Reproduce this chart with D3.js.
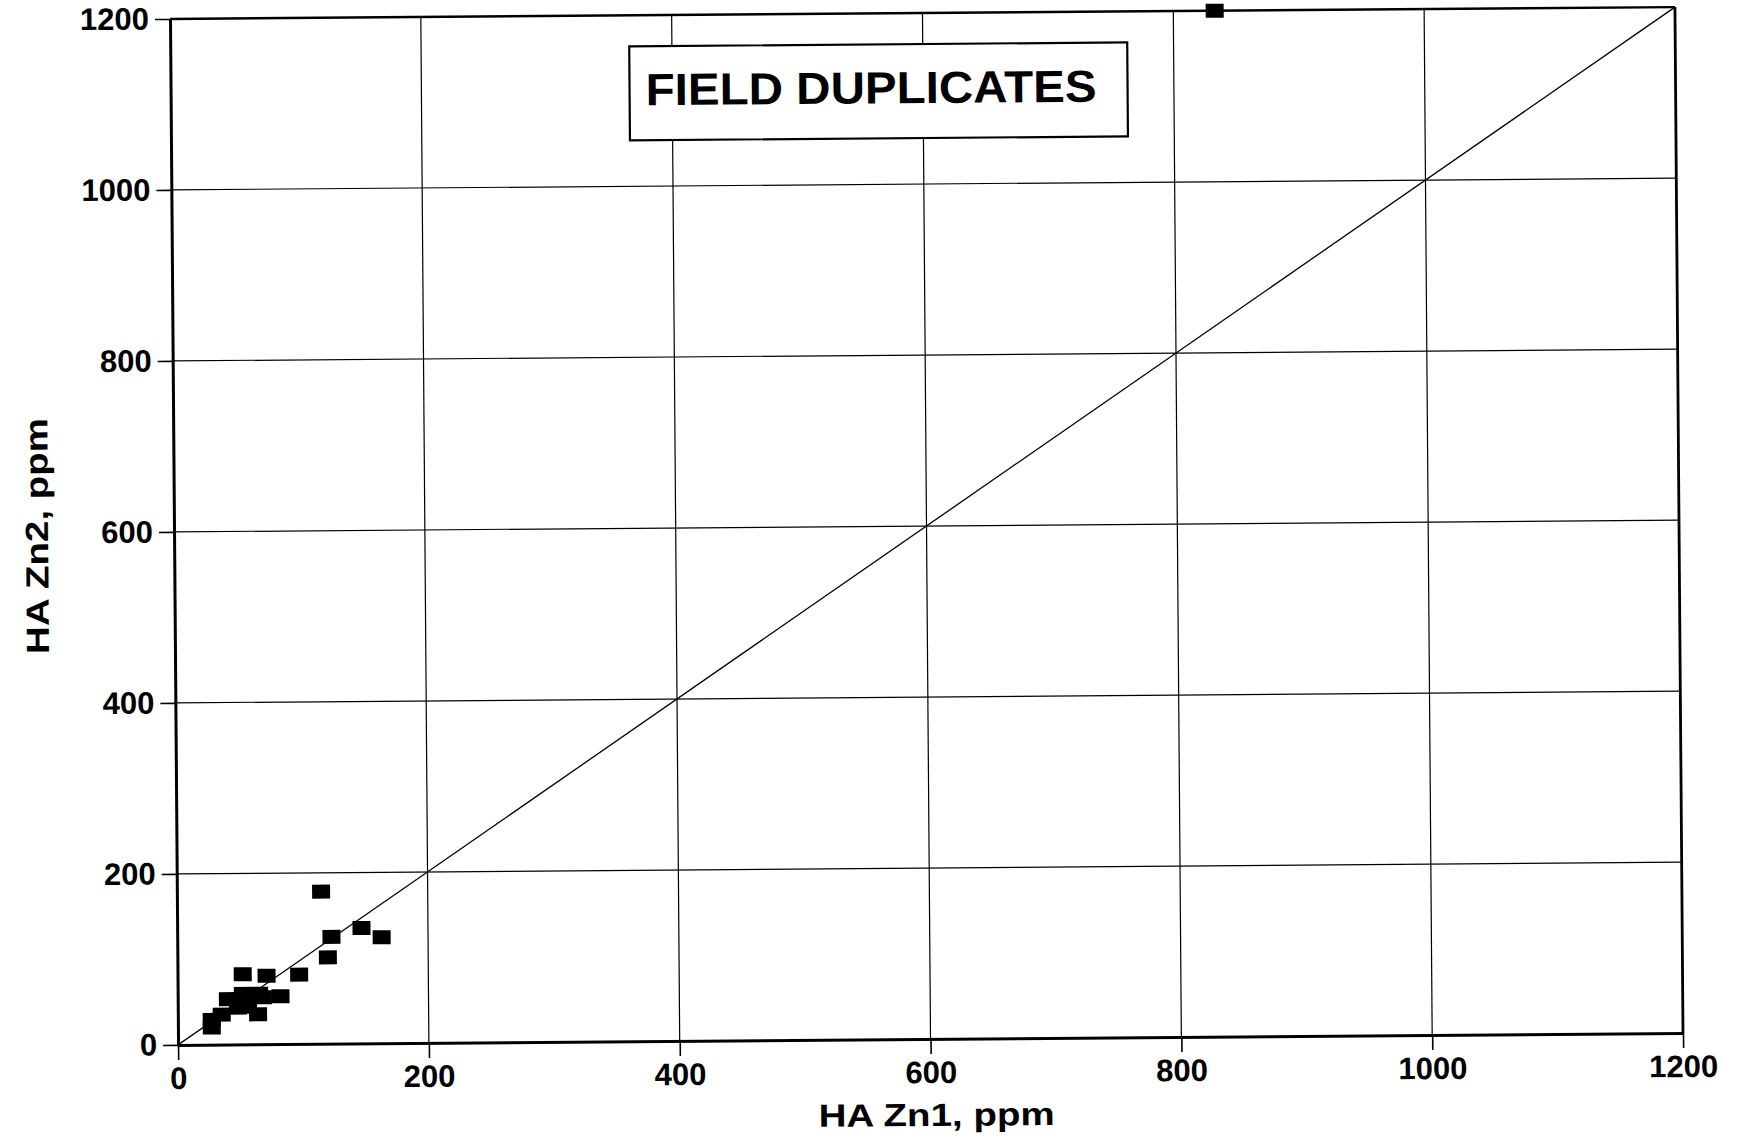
<!DOCTYPE html>
<html>
<head>
<meta charset="utf-8">
<script src="https://cdn.jsdelivr.net/npm/d3@7"></script>
<style>
  html, body { margin: 0; padding: 0; background: #fff; }
  svg { display: block; }
  text { font-family: "Liberation Sans", Arial, Helvetica, sans-serif; font-weight: bold; fill: #000; }
</style>
</head>
<body>
<svg id="chart" width="1743" height="1141"></svg>
<script>
// Field duplicate pairs: first and second HA Zn determinations (ppm)
const zn1 = [115, 123, 120, 147, 163, 97, 52, 71, 82, 68, 52, 65, 40, 48, 56, 64, 35, 27, 27, 833];
const zn2 = [178, 125, 101, 135, 124, 81, 82, 80, 56, 55, 59, 59, 53, 43, 44, 35, 35, 29, 20, 1200];

const xTicks = [0, 200, 400, 600, 800, 1000, 1200];
const yTicks = [0, 200, 400, 600, 800, 1000, 1200];
const domain = [0, 1200];

const titleText = "FIELD DUPLICATES";
const xLabel = "HA Zn1, ppm";
const yLabel = "HA Zn2, ppm";

const plot = { left: 174, top: 13, width: 1505, height: 1026 };
const cx = plot.left + plot.width / 2, cy = plot.top + plot.height / 2;

const svg = d3.select("#chart");
// whole sheet sits at a slight angle
const root = svg.append("g").attr("transform", `rotate(-0.45, ${cx}, ${cy})`);

const x = d3.scaleLinear().domain(domain).range([plot.left, plot.left + plot.width]);
const y = d3.scaleLinear().domain(domain).range([plot.top + plot.height, plot.top]);

// grid
const grid = root.append("g").attr("stroke", "#000").attr("stroke-width", 1.2);
grid.selectAll("line.v").data(xTicks.filter(d => d > 0 && d < 1200)).join("line")
  .attr("class", "v")
  .attr("x1", d => x(d)).attr("x2", d => x(d))
  .attr("y1", y(1200)).attr("y2", y(0));
grid.selectAll("line.h").data(yTicks.filter(d => d > 0 && d < 1200)).join("line")
  .attr("class", "h")
  .attr("x1", x(0)).attr("x2", x(1200))
  .attr("y1", d => y(d)).attr("y2", d => y(d));

// 1:1 line
root.append("line")
  .attr("x1", x(0)).attr("y1", y(0))
  .attr("x2", x(1200)).attr("y2", y(1200))
  .attr("stroke", "#000").attr("stroke-width", 1.3);

// axes
const xAxis = root.append("g")
  .attr("transform", `translate(0,${y(0)})`)
  .call(d3.axisBottom(x).tickValues(xTicks).tickSize(15).tickSizeOuter(0).tickPadding(7).tickFormat(d3.format("d")));
const yAxis = root.append("g")
  .attr("transform", `translate(${x(0)},0)`)
  .call(d3.axisLeft(y).tickValues(yTicks).tickSize(15).tickSizeOuter(0).tickPadding(6).tickFormat(d3.format("d")));

[xAxis, yAxis].forEach(a => {
  a.select(".domain").attr("stroke", "#000").attr("stroke-width", 3);
  a.selectAll(".tick line").attr("stroke", "#000").attr("stroke-width", 1.6);
  a.selectAll(".tick text").attr("font-size", 31).attr("font-weight", "bold")
    .attr("font-family", "Liberation Sans, Arial, sans-serif").attr("fill", "#000");
});

// top and right frame edges
root.append("line").attr("x1", x(0)).attr("x2", x(1200)).attr("y1", y(1200)).attr("y2", y(1200))
  .attr("stroke", "#000").attr("stroke-width", 2.4);
root.append("line").attr("x1", x(1200)).attr("x2", x(1200)).attr("y1", y(1200)).attr("y2", y(0))
  .attr("stroke", "#000").attr("stroke-width", 2.8);

// sample pairs
const pts = zn1.map((v, i) => ({ a: v, b: zn2[i] }));
const mw = 18, mh = 14;
root.append("g").selectAll("rect").data(pts).join("rect")
  .attr("x", d => x(d.a) - mw / 2).attr("y", d => y(d.b) - mh / 2)
  .attr("width", mw).attr("height", mh)
  .attr("fill", "#000");

// title box
const box = { x: 633, y: 44, w: 498, h: 94 };
root.append("rect")
  .attr("x", box.x).attr("y", box.y).attr("width", box.w).attr("height", box.h)
  .attr("fill", "#fff").attr("stroke", "#000").attr("stroke-width", 2.2);
root.append("text")
  .attr("x", box.x + 16).attr("y", box.y + 59)
  .attr("font-size", 45)
  .attr("textLength", 451).attr("lengthAdjust", "spacingAndGlyphs")
  .text(titleText);

// axis titles
root.append("text")
  .attr("x", 932).attr("y", 1126)
  .attr("text-anchor", "middle")
  .attr("font-size", 32)
  .attr("textLength", 236).attr("lengthAdjust", "spacingAndGlyphs")
  .text(xLabel);
root.append("text")
  .attr("transform", `translate(48, 529) rotate(-90)`)
  .attr("text-anchor", "middle")
  .attr("font-size", 32)
  .attr("textLength", 236).attr("lengthAdjust", "spacingAndGlyphs")
  .text(yLabel);
</script>
</body>
</html>
